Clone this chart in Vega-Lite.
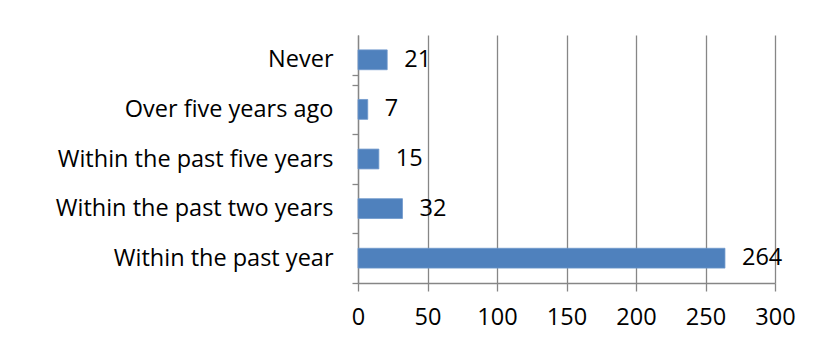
{
  "$schema": "https://vega.github.io/schema/vega-lite/v6.json",
  "autosize": {"type": "none"},
  "width": 417,
  "height": 248,
  "padding": {"left": 358, "top": 35, "right": 38, "bottom": 62},
  "background": "white",
  "config": {
    "view": {"stroke": null},
    "font": "Open Sans",
    "axis": {"labelFont": "Open Sans", "labelFontSize": 23.5, "labelColor": "#000000", "domainColor": "#868686", "tickColor": "#868686", "gridColor": "#868686", "domainWidth": 1.3, "tickWidth": 1.3, "gridWidth": 1.3}
  },
  "data": {
    "values": [
      {"category": "Never", "count": 21},
      {"category": "Over five years ago", "count": 7},
      {"category": "Within the past five years", "count": 15},
      {"category": "Within the past two years", "count": 32},
      {"category": "Within the past year", "count": 264}
    ]
  },
  "encoding": {
    "y": {
      "field": "category",
      "type": "nominal",
      "sort": ["Never", "Over five years ago", "Within the past five years", "Within the past two years", "Within the past year"],
      "scale": {"paddingInner": 0.6, "paddingOuter": 0.3},
      "axis": {"title": null, "tickOffset": 24.8, "labelOffset": -24.8, "tickExtra": true, "tickSize": 6, "labelPadding": 19, "grid": false, "labelLimit": 400}
    },
    "x": {
      "field": "count",
      "type": "quantitative",
      "scale": {"domain": [0, 300], "nice": false},
      "axis": {"title": null, "values": [0, 50, 100, 150, 200, 250, 300], "tickSize": 8, "labelPadding": 14, "labelFlush": false, "grid": true}
    }
  },
  "layer": [
    {"mark": {"type": "bar", "color": "#4F81BD", "stroke": "#6F98CC", "strokeWidth": 0.8}},
    {"mark": {"type": "text", "align": "left", "baseline": "middle", "dx": 17, "fontSize": 23.5, "color": "#000000", "font": "Open Sans"}, "encoding": {"text": {"field": "count", "type": "quantitative"}}}
  ]
}
